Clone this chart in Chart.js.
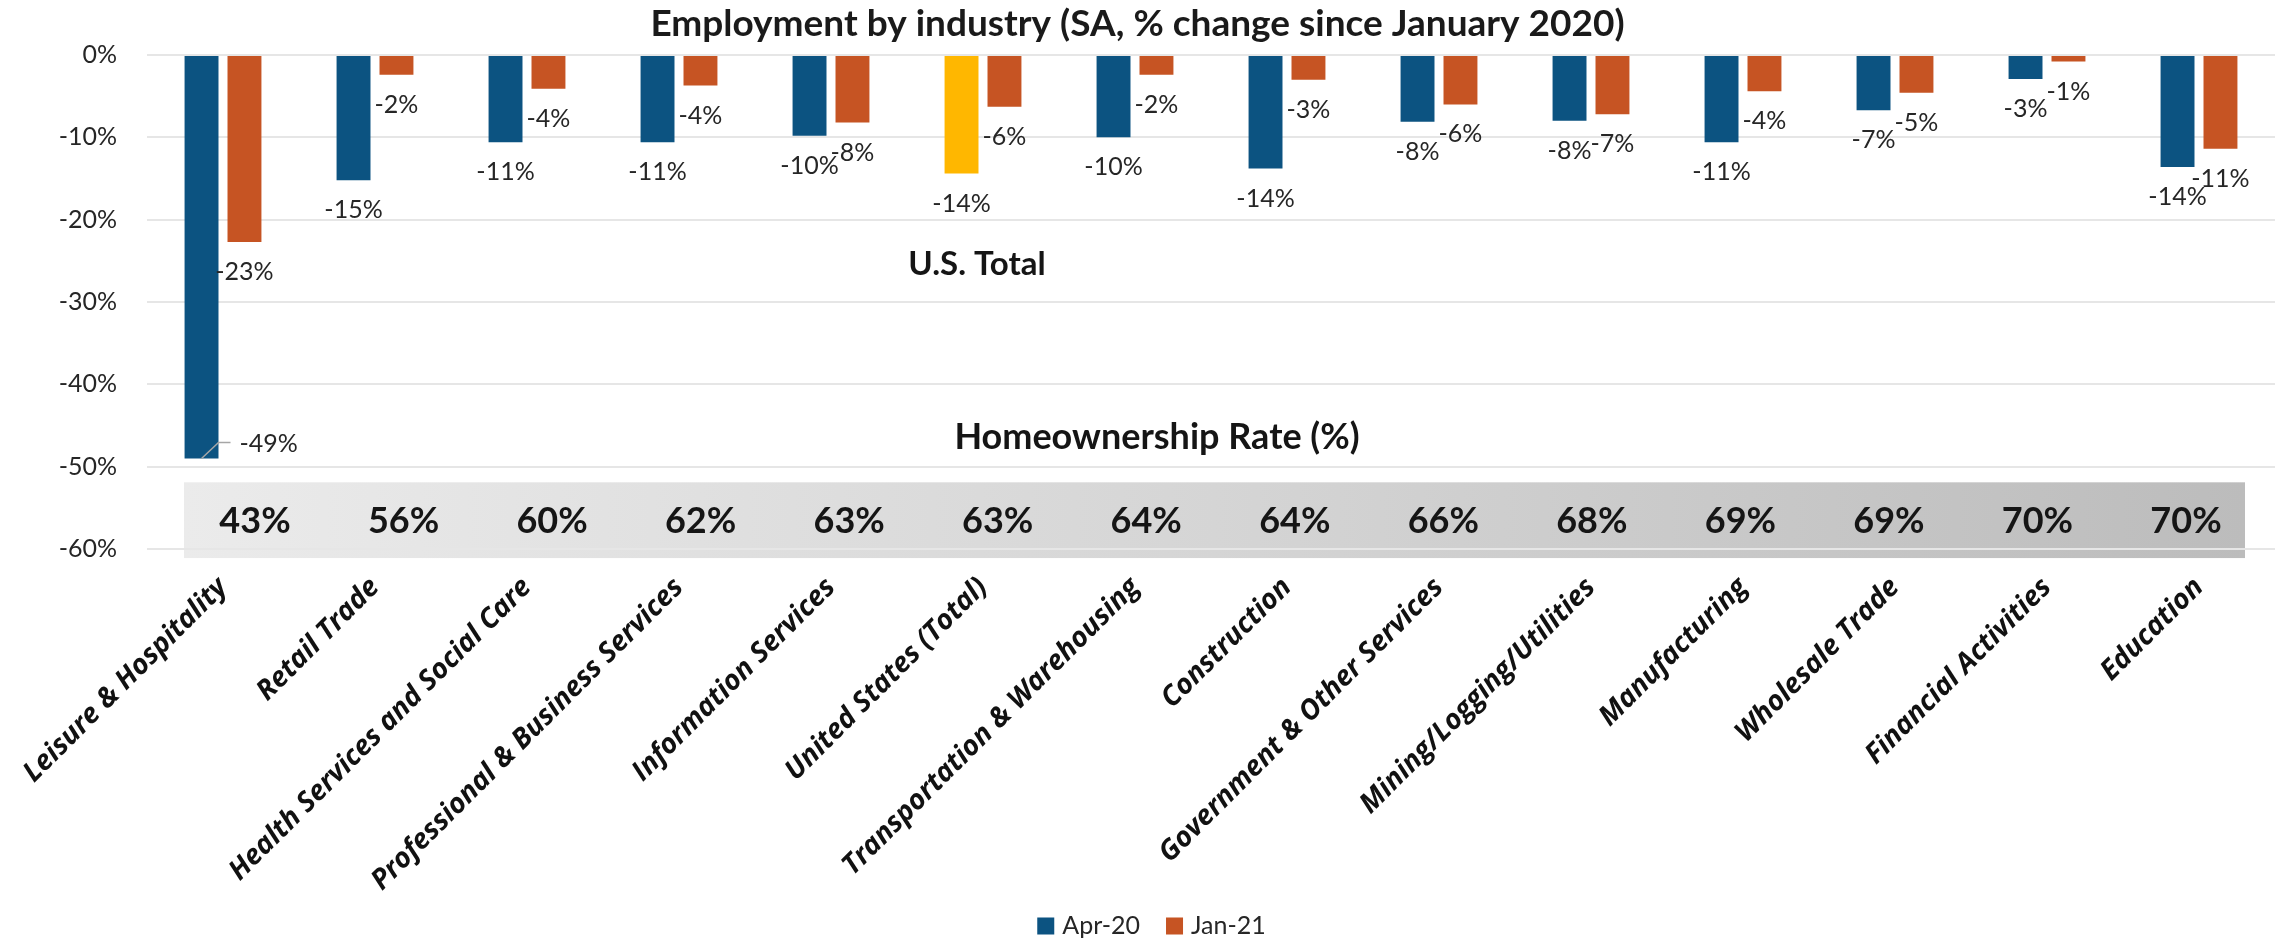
<!DOCTYPE html>
<html>
<head>
<meta charset="utf-8">
<script src="https://cdn.jsdelivr.net/npm/chart.js@4.4.1/dist/chart.umd.min.js"></script>
<style>
  html, body { margin: 0; padding: 0; background: #ffffff; }
  #wrap { width: 2277px; height: 940px; }
</style>
</head>
<body>
<div id="wrap"><canvas id="chart" width="2277" height="940"></canvas></div>
<script>
// Industries, ordered by homeownership rate
const categories = [
  'Leisure & Hospitality',
  'Retail Trade',
  'Health Services and Social Care',
  'Professional & Business Services',
  'Information Services',
  'United States (Total)',
  'Transportation & Warehousing',
  'Construction',
  'Government & Other Services',
  'Mining/Logging/Utilities',
  'Manufacturing',
  'Wholesale Trade',
  'Financial Activities',
  'Education'
];

// Employment change since January 2020 (%)
const apr20 = [-49.0, -15.2, -10.6, -10.6, -9.8, -14.4, -10.0, -13.8, -8.1, -8.0, -10.6, -6.7, -2.9, -13.6];
const jan21 = [-22.7, -2.4, -4.1, -3.7, -8.2, -6.3, -2.4, -3.0, -6.0, -7.2, -4.4, -4.6, -0.8, -11.4];

// Homeownership rate by industry (%)
const homeownership = [43, 56, 60, 62, 63, 63, 64, 64, 66, 68, 69, 69, 70, 70];

const seriesNames = ['Apr-20', 'Jan-21'];
const yTicks = [0, -10, -20, -30, -40, -50, -60];
const totalCategory = 'United States (Total)';

const chartTitle = 'Employment by industry (SA, % change since January 2020)';
const totalNote = 'U.S. Total';
const bandTitle = 'Homeownership Rate (%)';

const BLUE = '#0c5381';
const ORANGE = '#c65423';
const GOLD = '#ffb700';
const FONT = 'Lato, "Noto Sans", sans-serif';

// Homeownership strip, drawn under the grid so the -60% line shows through it
function bandBox(chart) {
  const xs = chart.scales.x, ys = chart.scales.y;
  return {
    left: xs.getPixelForValue(0) - 39,
    right: xs.getPixelForValue(categories.length - 1) + 46,
    top: ys.getPixelForValue(-51.9),
    bottom: ys.getPixelForValue(-61.1)
  };
}

const bandPlugin = {
  id: 'homeBand',
  beforeDraw(chart) {
    const { ctx } = chart;
    const b = bandBox(chart);
    ctx.save();
    const g = ctx.createLinearGradient(b.left, 0, b.right, 0);
    g.addColorStop(0, '#ebebeb');
    g.addColorStop(0.5, '#d5d5d5');
    g.addColorStop(1, '#bcbcbc');
    ctx.fillStyle = g;
    ctx.fillRect(b.left, b.top, b.right - b.left, b.bottom - b.top);
    ctx.restore();
  },
  afterDatasetsDraw(chart) {
    const { ctx } = chart;
    const xs = chart.scales.x, ys = chart.scales.y;
    const b = bandBox(chart);
    const step = (b.right - b.left - 130) / (homeownership.length - 1);
    ctx.save();
    ctx.fillStyle = '#151515';
    ctx.font = 'bold 36px ' + FONT;
    ctx.textAlign = 'center';
    ctx.textBaseline = 'middle';
    homeownership.forEach((v, i) => {
      ctx.fillText(v + '%', b.left + 71 + i * step, (b.top + b.bottom) / 2 + 1);
    });
    // section headings
    ctx.font = 'bold 36px ' + FONT;
    ctx.fillText(bandTitle, 1157, ys.getPixelForValue(-46.4));
    ctx.font = 'bold 33px ' + FONT;
    const ti = categories.indexOf(totalCategory);
    ctx.fillText(totalNote, xs.getPixelForValue(ti) - 6, ys.getPixelForValue(-25.4));
    ctx.restore();
  }
};

// Value labels under each bar end; a label that would run into the strip gets a leader line
const valueLabelPlugin = {
  id: 'valueLabels',
  afterDatasetsDraw(chart) {
    const { ctx } = chart;
    const bandTop = bandBox(chart).top;
    ctx.save();
    ctx.font = '400 25px ' + FONT;
    ctx.fillStyle = '#262626';
    ctx.textBaseline = 'middle';
    chart.data.datasets.forEach((ds, di) => {
      const meta = chart.getDatasetMeta(di);
      meta.data.forEach((bar, i) => {
        const txt = Math.round(ds.data[i]) + '%';
        const cy = bar.y + 30;
        if (cy + 14 > bandTop) {
          ctx.strokeStyle = '#a6a6a6';
          ctx.lineWidth = 1.5;
          ctx.beginPath();
          ctx.moveTo(bar.x, bar.y);
          ctx.lineTo(bar.x + 17, bar.y - 16);
          ctx.lineTo(bar.x + 29, bar.y - 16);
          ctx.stroke();
          ctx.textAlign = 'left';
          ctx.fillText(txt, bar.x + 38, bar.y - 14);
        } else {
          ctx.textAlign = 'center';
          ctx.fillText(txt, bar.x, cy);
        }
      });
    });
    ctx.restore();
  }
};

// Legend row at the foot of the chart
const legendPlugin = {
  id: 'footLegend',
  afterDraw(chart) {
    const { ctx } = chart;
    ctx.save();
    ctx.font = '400 25px ' + FONT;
    ctx.textBaseline = 'middle';
    ctx.textAlign = 'left';
    const box = 17, gapText = 8, gapItem = 26;
    const items = chart.data.datasets.map((ds, i) => ({ label: ds.label, color: i === 0 ? BLUE : ORANGE }));
    let total = 0;
    items.forEach((it, i) => {
      it.w = ctx.measureText(it.label).width;
      total += box + gapText + it.w + (i ? gapItem : 0);
    });
    let x = chart.width / 2 + 13 - total / 2;
    const cy = 926;
    items.forEach((it, i) => {
      if (i) x += gapItem;
      ctx.fillStyle = it.color;
      ctx.fillRect(x, cy - box / 2, box, box);
      x += box + gapText;
      ctx.fillStyle = '#262626';
      ctx.fillText(it.label, x, cy);
      x += it.w;
    });
    ctx.restore();
  }
};

const aprColors = categories.map(c => c === totalCategory ? GOLD : BLUE);

new Chart(document.getElementById('chart'), {
  type: 'bar',
  data: {
    labels: categories,
    datasets: [
      { label: seriesNames[0], data: apr20, backgroundColor: aprColors },
      { label: seriesNames[1], data: jan21, backgroundColor: ORANGE }
    ]
  },
  plugins: [bandPlugin, valueLabelPlugin, legendPlugin],
  options: {
    responsive: false,
    animation: false,
    devicePixelRatio: 1,
    layout: { padding: { left: 0, right: 2, top: 0, bottom: 0 } },
    datasets: { bar: { categoryPercentage: 0.565, barPercentage: 0.79 } },
    plugins: {
      legend: { display: false },
      tooltip: { enabled: false },
      title: {
        display: true,
        text: chartTitle,
        color: '#1a1a1a',
        font: { family: FONT, size: 37, weight: 'bold', lineHeight: 1.2 },
        padding: { top: 2, bottom: 8.6 }
      }
    },
    scales: {
      x: {
        grid: { display: false, drawTicks: false },
        border: { display: false },
        ticks: {
          autoSkip: false,
          minRotation: 45,
          maxRotation: 45,
          padding: 22,
          color: '#111111',
          font: { family: '"Open Sans", sans-serif', size: 28, weight: 'bold', style: 'italic' }
        },
        afterFit(s) { s.height = 391; }
      },
      y: {
        min: yTicks[yTicks.length - 1],
        max: yTicks[0],
        afterBuildTicks(s) { s.ticks = yTicks.map(v => ({ value: v })); },
        ticks: {
          padding: 30,
          color: '#262626',
          font: { family: FONT, size: 25 },
          callback: v => v + '%'
        },
        grid: { color: '#e6e6e6', lineWidth: 2, drawTicks: false },
        border: { display: false },
        afterFit(s) { s.width = 147; }
      }
    }
  }
});
</script>
</body>
</html>
